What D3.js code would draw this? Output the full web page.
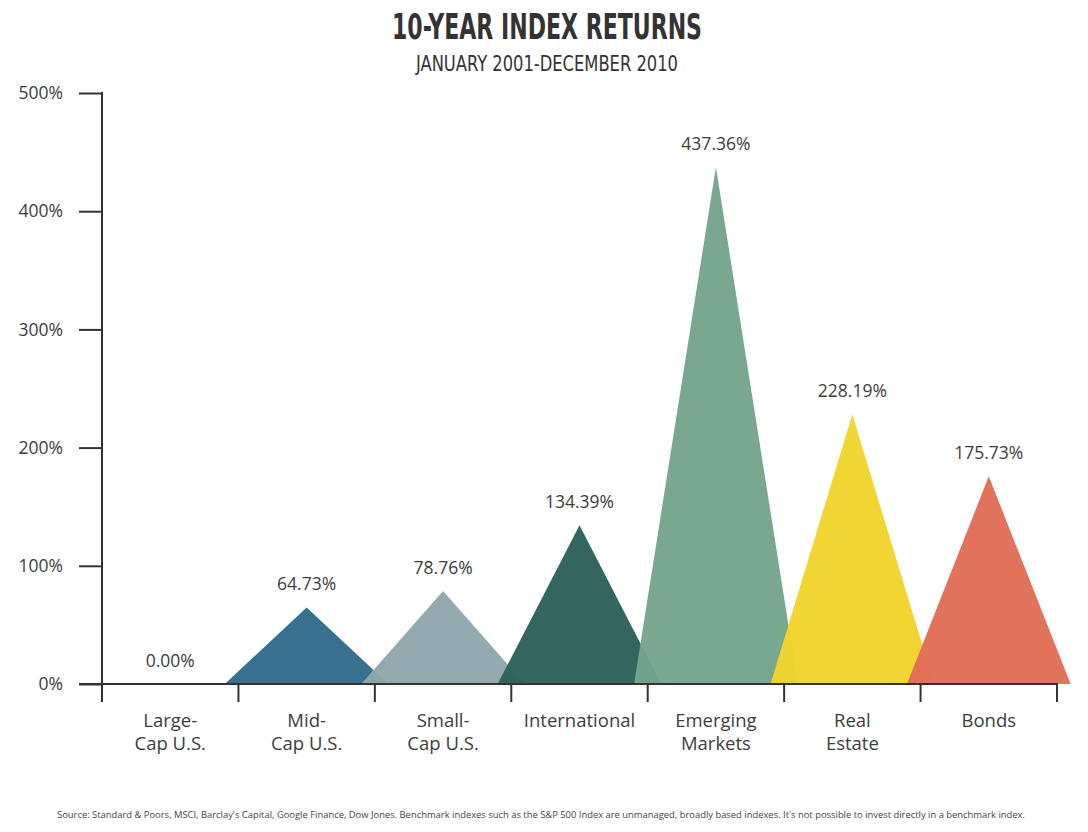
<!DOCTYPE html>
<html>
<head>
<meta charset="utf-8">
<script src="https://cdn.jsdelivr.net/npm/d3@7"></script>
<style>
  html, body { margin: 0; padding: 0; background: #fff; }
  svg { display: block; }
</style>
</head>
<body>
<svg id="chart" width="1088" height="832"></svg>
<script>
// ---- data ----
const categories = ["Large-|Cap U.S.", "Mid-|Cap U.S.", "Small-|Cap U.S.", "International", "Emerging|Markets", "Real|Estate", "Bonds"];
const returnsPct = [0.00, 64.73, 78.76, 134.39, 437.36, 228.19, 175.73];
const valueLabels = ["0.00%", "64.73%", "78.76%", "134.39%", "437.36%", "228.19%", "175.73%"];
const colors = ["#2f6b8a", "#2f6b8a", "#90a6ad", "#2c5f5b", "#74a38b", "#f0d42b", "#e06d56"];
const yTicks = [0, 100, 200, 300, 400, 500];
const titleText = "10-YEAR INDEX RETURNS";
const subtitleText = "JANUARY 2001-DECEMBER 2010";
const sourceText = "Source: Standard & Poors, MSCI, Barclay's Capital, Google Finance, Dow Jones. Benchmark indexes such as the S&P 500 Index are unmanaged, broadly based indexes. It's not possible to invest directly in a benchmark index.";

// ---- layout ----
(function () {
const svg = d3.select("#chart");
const plotLeft = 102, plotRight = 1057, plotTop = 93, plotBase = 684;
const labelFont = "'Open Sans', Lato, sans-serif";
const textColor = "#3d3d3d";

const x = d3.scaleBand().domain(categories).range([plotLeft, plotRight]).padding(0);
const y = d3.scaleLinear().domain([0, 500]).range([plotBase, plotTop]);

// title
svg.append("text").attr("x", 547).attr("y", 39).attr("text-anchor", "middle")
  .attr("font-family", "'Liberation Sans Narrow', 'DejaVu Sans Condensed', sans-serif")
  .attr("font-weight", "bold").attr("font-size", 36).attr("fill", "#333")
  .attr("textLength", 310).attr("lengthAdjust", "spacingAndGlyphs")
  .text(titleText);
svg.append("text").attr("x", 547).attr("y", 71).attr("text-anchor", "middle")
  .attr("font-family", "'Liberation Sans Narrow', 'DejaVu Sans Condensed', sans-serif")
  .attr("font-size", 22).attr("fill", "#333")
  .attr("textLength", 262).attr("lengthAdjust", "spacingAndGlyphs")
  .text(subtitleText);

// triangles
const halfW = x.bandwidth() * 0.6;
const tri = svg.append("g");
categories.forEach((c, i) => {
  if (returnsPct[i] <= 0) return;
  const cx = x(c) + x.bandwidth() / 2;
  const pts = [[cx - halfW, y(0)], [cx, y(returnsPct[i])], [cx + halfW, y(0)]];
  tri.append("path").attr("d", d3.line()(pts) + "Z")
    .attr("fill", colors[i]).attr("fill-opacity", 0.96);
});

// value labels
categories.forEach((c, i) => {
  const cx = x(c) + x.bandwidth() / 2;
  svg.append("text").attr("x", cx).attr("y", y(returnsPct[i]) - 17)
    .attr("text-anchor", "middle").attr("font-family", labelFont)
    .attr("font-size", 17.5).attr("fill", textColor).text(valueLabels[i]);
});

// y axis
const yAxis = d3.axisLeft(y).tickValues(yTicks).tickSize(23).tickPadding(16)
  .tickFormat(d => d + "%");
const gy = svg.append("g").attr("transform", `translate(${plotLeft},0)`).call(yAxis);
gy.select(".domain").remove();
gy.selectAll(".tick line").attr("stroke", "#333").attr("stroke-width", 2);
gy.selectAll(".tick text").attr("font-family", labelFont).attr("font-size", 17.5)
  .attr("fill", textColor);
svg.append("line").attr("x1", plotLeft).attr("x2", plotLeft).attr("y1", plotTop - 1).attr("y2", plotBase + 18)
  .attr("stroke", "#333").attr("stroke-width", 2);

// x axis baseline + boundary ticks
svg.append("line").attr("x1", plotLeft - 23).attr("x2", plotRight + 1).attr("y1", plotBase).attr("y2", plotBase)
  .attr("stroke", "#333").attr("stroke-width", 2);
d3.range(1, categories.length + 1).forEach(k => {
  const bx = plotLeft + x.step() * k;
  svg.append("line").attr("x1", bx).attr("x2", bx).attr("y1", plotBase).attr("y2", plotBase + 18)
    .attr("stroke", "#333").attr("stroke-width", 2);
});

// category labels
categories.forEach((c, i) => {
  const cx = x(c) + x.bandwidth() / 2;
  const t = svg.append("text").attr("text-anchor", "middle").attr("font-family", labelFont)
    .attr("font-size", 18.5).attr("fill", textColor);
  c.split("|").forEach((line, j) => {
    t.append("tspan").attr("x", cx).attr("y", 727 + j * 23).text(line);
  });
});

// source note
svg.append("text").attr("x", 541).attr("y", 818).attr("text-anchor", "middle")
  .attr("font-family", "'Liberation Sans Narrow', 'Open Sans', sans-serif")
  .attr("font-size", 8.5).attr("fill", "#444")
  .attr("textLength", 968).attr("lengthAdjust", "spacingAndGlyphs")
  .text(sourceText);
})();
</script>
</body>
</html>
